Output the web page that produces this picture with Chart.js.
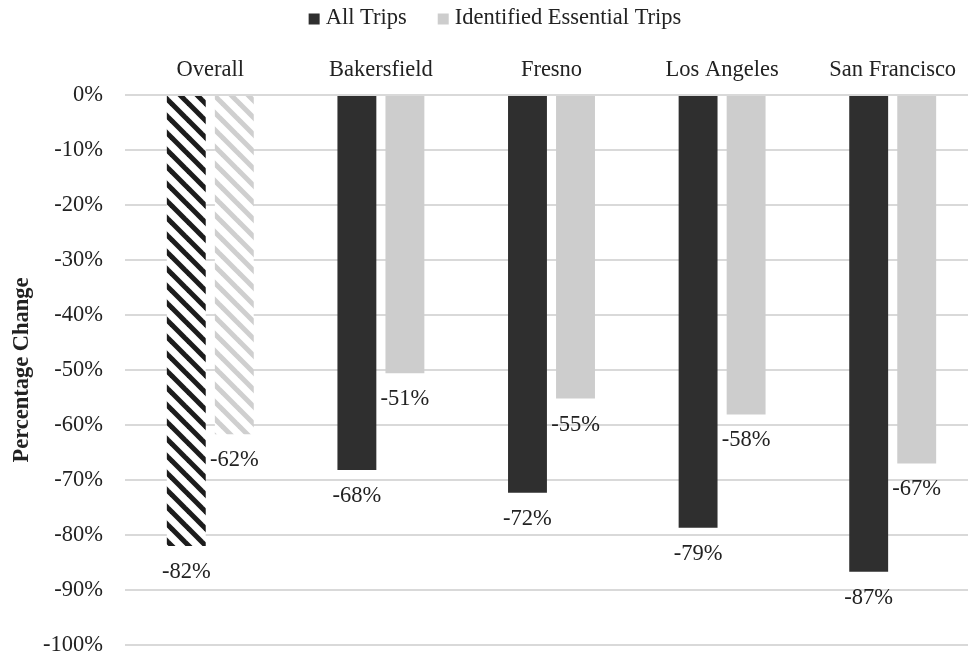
<!DOCTYPE html>
<html>
<head>
<meta charset="utf-8">
<script src="https://cdn.jsdelivr.net/npm/chart.js@4/dist/chart.umd.min.js"></script>
<style>
  html, body { margin: 0; padding: 0; background: #fff; overflow: hidden; }
  #wrap { width: 968px; height: 654px; overflow: hidden; }
</style>
</head>
<body>
<div id="wrap"><canvas id="c" width="978" height="654"></canvas></div>
<script>
// Percentage change in trips by region
const categories = ['Overall', 'Bakersfield', 'Fresno', 'Los Angeles', 'San Francisco'];
const allTrips = [-82.0, -68.2, -72.3, -78.7, -86.7];
const essentialTrips = [-61.7, -50.6, -55.2, -58.1, -67.0];
const seriesNames = ['All Trips', 'Identified Essential Trips'];
const yMin = -100, yMax = 0, yStep = 10;

const FONT = "'Liberation Serif', 'Times New Roman', serif";
const FS = 22.5;
const TEXT = '#222222';
const DARK = '#2f2f2f';
const LIGHT = '#cdcdcd';

// diagonal stripe fill for the aggregated group
function stripes(color) {
  const s = 17;
  const c = document.createElement('canvas');
  c.width = s; c.height = s;
  const g = c.getContext('2d');
  g.fillStyle = '#ffffff';
  g.fillRect(0, 0, s, s);
  g.strokeStyle = color;
  g.lineWidth = 5;
  g.lineCap = 'square';
  for (const k of [-s, 0, s]) {
    g.beginPath();
    g.moveTo(k, 0);
    g.lineTo(k + s, s);
    g.stroke();
  }
  return g.createPattern(c, 'repeat');
}
const darkStripes = stripes('#1c1c1c');
const lightStripes = stripes('#cfcfcf');

// value labels under each bar end
const valueLabels = {
  id: 'valueLabels',
  afterDatasetsDraw(chart) {
    const ctx = chart.ctx;
    ctx.save();
    ctx.font = FS + 'px ' + FONT;
    ctx.fillStyle = TEXT;
    ctx.textAlign = 'center';
    ctx.textBaseline = 'middle';
    chart.data.datasets.forEach((ds, di) => {
      chart.getDatasetMeta(di).data.forEach((bar, i) => {
        const v = ds.data[i];
        ctx.fillText(Math.round(v) + '%', bar.x, bar.y + 26);
      });
    });
    ctx.restore();
  }
};

// compact legend row: small square swatch tight against its text
const topLegend = {
  id: 'topLegend',
  afterDraw(chart) {
    const ctx = chart.ctx;
    const box = 11, boxGap = 6, itemGap = 31, cy = 18, centerX = 495;
    const colors = [DARK, LIGHT];
    ctx.save();
    ctx.font = FS + 'px ' + FONT;
    ctx.textBaseline = 'middle';
    ctx.textAlign = 'left';
    const widths = seriesNames.map(t => ctx.measureText(t).width);
    const total = widths.reduce((a, w) => a + box + boxGap + w, 0) + itemGap * (seriesNames.length - 1);
    let x = centerX - total / 2;
    seriesNames.forEach((t, i) => {
      ctx.fillStyle = colors[i];
      ctx.fillRect(x, cy - box / 2 + 1, box, box);
      x += box + boxGap;
      ctx.fillStyle = TEXT;
      ctx.fillText(t, x, cy);
      x += widths[i] + itemGap;
    });
    ctx.restore();
  }
};

new Chart(document.getElementById('c'), {
  type: 'bar',
  data: {
    labels: categories,
    datasets: [
      {
        label: seriesNames[0],
        data: allTrips,
        backgroundColor: (ctx) => ctx.dataIndex === 0 ? darkStripes : DARK,
        borderWidth: 0,
        categoryPercentage: 0.563,
        barPercentage: 0.81
      },
      {
        label: seriesNames[1],
        data: essentialTrips,
        backgroundColor: (ctx) => ctx.dataIndex === 0 ? lightStripes : LIGHT,
        borderWidth: 0,
        categoryPercentage: 0.563,
        barPercentage: 0.81
      }
    ]
  },
  options: {
    responsive: false,
    animation: false,
    layout: { padding: { left: 9, right: 0, top: 0, bottom: 9 } },
    plugins: {
      tooltip: { enabled: false },
      legend: { display: false }
    },
    scales: {
      x: {
        position: 'top',
        grid: { display: false },
        border: { display: false },
        ticks: {
          font: { family: FONT, size: FS },
          color: TEXT,
          padding: 3
        },
        afterFit(scale) {
          scale.height = 95;
          scale.paddingLeft = 0;
          scale.paddingRight = 0;
        }
      },
      y: {
        min: yMin,
        max: yMax,
        ticks: {
          stepSize: yStep,
          font: { family: FONT, size: FS },
          color: TEXT,
          padding: 22,
          callback: (v) => v + '%'
        },
        grid: { color: '#d9d9d9', lineWidth: 2, drawTicks: false },
        border: { display: false },
        title: {
          display: true,
          text: 'Percentage Change',
          font: { family: FONT, size: FS, weight: 'bold' },
          color: TEXT,
          padding: { top: 0, bottom: 0 }
        },
        afterFit(scale) {
          scale.width = 116;
          scale.paddingTop = 0;
          scale.paddingBottom = 0;
        }
      }
    }
  },
  plugins: [valueLabels, topLegend]
});
</script>
</body>
</html>
